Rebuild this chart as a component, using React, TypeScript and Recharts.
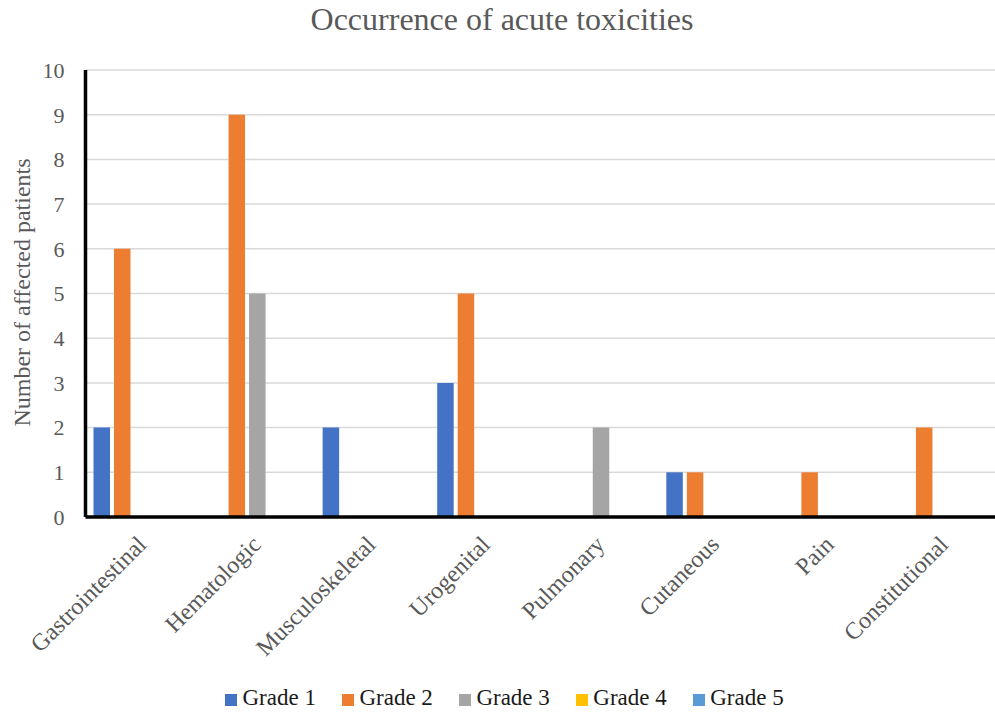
import React from 'react';
import { BarChart, Bar, XAxis, YAxis, CartesianGrid, Legend } from 'recharts';

const categories = ['Gastrointestinal', 'Hematologic', 'Musculoskeletal', 'Urogenital', 'Pulmonary', 'Cutaneous', 'Pain', 'Constitutional'];
const grade1 = [2, 0, 2, 3, 0, 1, 0, 0];
const grade2 = [6, 9, 0, 5, 0, 1, 1, 2];
const grade3 = [0, 5, 0, 0, 2, 0, 0, 0];
const grade4 = [0, 0, 0, 0, 0, 0, 0, 0];
const grade5 = [0, 0, 0, 0, 0, 0, 0, 0];
const seriesNames = ['Grade 1', 'Grade 2', 'Grade 3', 'Grade 4', 'Grade 5'];
const seriesColors = ['#4472C4', '#ED7D31', '#A5A5A5', '#FFC000', '#5B9BD5'];
const yTicks = [0, 1, 2, 3, 4, 5, 6, 7, 8, 9, 10];
const title = 'Occurrence of acute toxicities';
const yLabel = 'Number of affected patients';

const seriesValues = [grade1, grade2, grade3, grade4, grade5];
const data = categories.map((c, i) => {
  const row: Record<string, string | number> = { category: c };
  seriesNames.forEach((n, k) => {
    row[n] = seriesValues[k][i];
  });
  return row;
});

const FONT = "'Liberation Serif', 'Times New Roman', serif";
const TEXT = '#595959';

const XTick = (props: any) => {
  const { x, y, payload } = props;
  const ax = x + 5;
  const ay = y + 29;
  return (
    <text
      x={ax}
      y={ay}
      textAnchor="end"
      transform={`rotate(-45, ${ax}, ${ay})`}
      fill={TEXT}
      fontSize={24}
      fontFamily={FONT}
    >
      {payload.value}
    </text>
  );
};

const LegendContent = () => (
  <div style={{ display: 'flex', height: 24, alignItems: 'center', fontFamily: FONT, fontSize: 23, lineHeight: '24px', color: '#1a1a1a' }}>
    {seriesNames.map((n, i) => (
      <div key={n} style={{ display: 'flex', alignItems: 'center', marginRight: 26 }}>
        <span style={{ display: 'inline-block', width: 12, height: 12, background: seriesColors[i], marginRight: 5.5, position: 'relative', top: 2 }} />
        <span>{n}</span>
      </div>
    ))}
  </div>
);

export default function App() {
  return (
    <div style={{ position: 'fixed', left: 0, top: 0, width: 995, height: 713, overflow: 'hidden', background: '#fff' }}>
      <BarChart
        width={1010}
        height={713}
        data={data}
        margin={{ top: 70, right: 8, bottom: 0, left: 0 }}
        barGap={4}
        barSize={16.5}
      >
        <CartesianGrid vertical={false} stroke="#d9d9d9" strokeWidth={1.5} />
        <XAxis
          dataKey="category"
          interval={0}
          tickLine={false}
          tickSize={0}
          tickMargin={0}
          axisLine={{ stroke: '#000', strokeWidth: 3.5 }}
          height={172}
          tick={<XTick />}
        />
        <YAxis
          domain={[0, 10]}
          ticks={yTicks}
          interval={0}
          width={85.5}
          tickLine={false}
          tickSize={0}
          tickMargin={21}
          axisLine={{ stroke: '#000', strokeWidth: 3.5 }}
          tick={{ fill: TEXT, fontSize: 22, fontFamily: FONT }}
        />
        {seriesNames.map((n, i) => (
          <Bar key={n} dataKey={n} fill={seriesColors[i]} isAnimationActive={false} />
        ))}
        <Legend
          verticalAlign="bottom"
          content={<LegendContent />}
          wrapperStyle={{ left: 225, top: 686, width: 700 }}
        />
      </BarChart>
      <svg width={995} height={713} style={{ position: 'absolute', left: 0, top: 0, pointerEvents: 'none' }}>
        <text x={502} y={30} textAnchor="middle" fill={TEXT} fontSize={32} fontFamily={FONT}>
          {title}
        </text>
        <text
          x={30}
          y={292.5}
          textAnchor="middle"
          transform="rotate(-90, 30, 292.5)"
          fill={TEXT}
          fontSize={24}
          fontFamily={FONT}
        >
          {yLabel}
        </text>
      </svg>
    </div>
  );
}
